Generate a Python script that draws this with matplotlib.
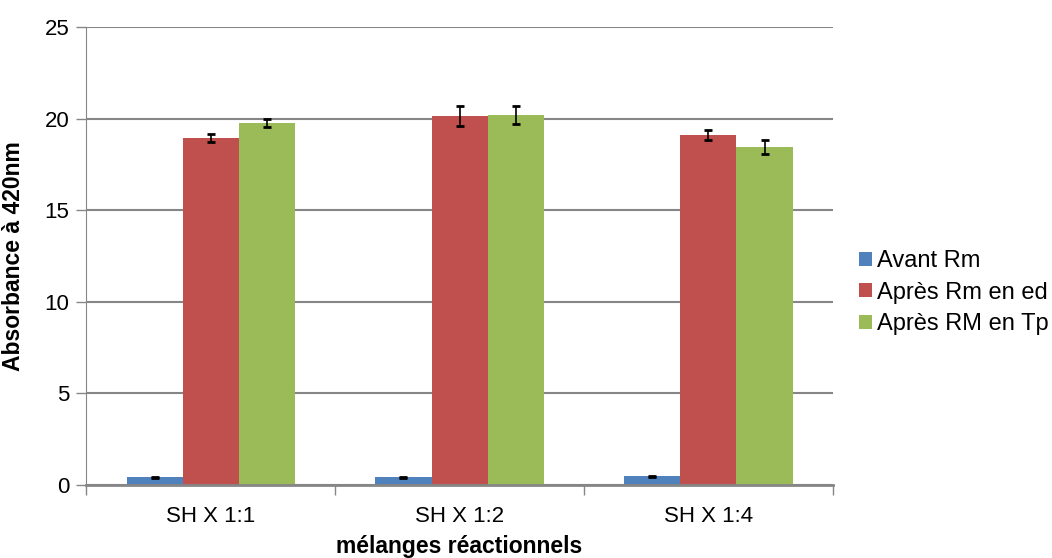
import matplotlib.pyplot as plt
import numpy as np

plt.rcParams['font.family'] = ['Liberation Sans', 'DejaVu Sans']

categories = ['SH X 1:1', 'SH X 1:2', 'SH X 1:4']
series = ['Avant Rm', 'Après Rm en ed', 'Après RM en Tp']
avant = [0.42, 0.42, 0.47]
avant_err = [0.02, 0.02, 0.02]
apres_ed = [18.95, 20.15, 19.11]
apres_ed_err = [0.23, 0.55, 0.28]
apres_tp = [19.77, 20.2, 18.46]
apres_tp_err = [0.22, 0.5, 0.39]
colors = ['#4F81BD', '#C0504D', '#9BBB59']

fig = plt.figure(figsize=(10.52, 5.58), dpi=100)
ax = fig.add_axes([0.0818, 0.1308, 0.71, 0.8208])

x = np.arange(len(categories))
w = 0.225
vals = [avant, apres_ed, apres_tp]
errs = [avant_err, apres_ed_err, apres_tp_err]
for i in range(3):
    ax.bar(x + (i - 1) * w, vals[i], w, color=colors[i], label=series[i], zorder=2,
           yerr=errs[i], error_kw=dict(ecolor='black', elinewidth=1.2, capsize=3, capthick=2))

ax.set_xlim(-0.5, 2.5)
ax.set_ylim(0, 25)
ax.set_yticks([0, 5, 10, 15, 20, 25])
ax.set_xticks(x)
ax.set_xticklabels(categories)
ax.set_xticks([-0.5, 0.5, 1.5, 2.5], minor=True)
ax.tick_params(axis='x', which='major', length=0, labelsize=16, pad=15)
ax.tick_params(axis='x', which='minor', length=7, color='#868686', width=1)
ax.tick_params(axis='y', length=7, color='#868686', width=1, labelsize=16, pad=5)
ax.yaxis.grid(True, color='#868686', linewidth=1.5, zorder=0)
ax.set_axisbelow(True)
for s in ['top', 'right']:
    ax.spines[s].set_visible(False)
ax.spines['left'].set_color('#868686')
ax.spines['bottom'].set_color('#868686')
ax.spines['bottom'].set_linewidth(2)

ax.set_ylabel('Absorbance à 420nm', fontsize=16.5, fontweight='bold', labelpad=14)
ax.set_xlabel('mélanges réactionnels', fontsize=16.5, fontweight='bold', labelpad=6)

ax.legend(loc='center left', bbox_to_anchor=(1.007, 0.42), frameon=False, fontsize=17,
          handlelength=0.55, handleheight=0.55, handletextpad=0.2, labelspacing=0.4)

fig.savefig('out.png', dpi=100)
